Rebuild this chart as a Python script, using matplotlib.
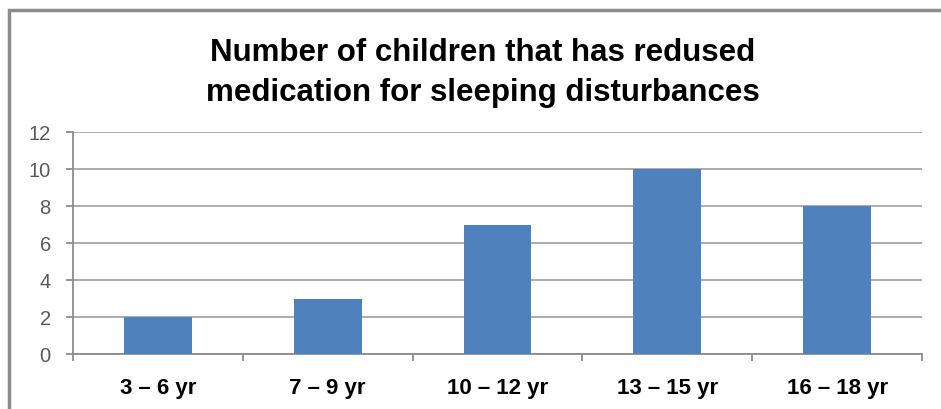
import matplotlib.pyplot as plt
from matplotlib.patches import Rectangle
import numpy as np

plt.rcParams['font.family'] = ['Liberation Sans', 'DejaVu Sans']

categories = ['3 – 6 yr', '7 – 9 yr', '10 – 12 yr', '13 – 15 yr', '16 – 18 yr']
children = [2, 3, 7, 10, 8]
y_ticks = [0, 2, 4, 6, 8, 10, 12]

fig = plt.figure(figsize=(9.41, 4.10), dpi=100)

# outer chart frame, running off the right and bottom edges
top = 1 - 11 / 410
fig.patches.append(Rectangle((9 / 941, -0.1), 1.1, top + 0.1,
                             transform=fig.transFigure, fill=False,
                             edgecolor='#8c8c8c', linewidth=2.5, zorder=0))

ax = fig.add_axes([73 / 941, 55 / 410, 849 / 941, 222 / 410])

x = np.arange(len(categories))
ax.bar(x, children, width=0.4, color='#4f81bd', zorder=3)

ax.set_xlim(-0.5, len(categories) - 0.5)
ax.set_ylim(0, 12)
ax.set_yticks(y_ticks)
ax.yaxis.grid(True, color='#a6a6a6', linewidth=1.3, zorder=0)

for s in ['top', 'right']:
    ax.spines[s].set_visible(False)
ax.spines['left'].set_color('#8c8c8c')
ax.spines['bottom'].set_color('#8c8c8c')
ax.spines['left'].set_linewidth(1.3)
ax.spines['bottom'].set_linewidth(1.3)

# category boundary ticks on the x axis, labels centred under the bars
ax.set_xticks(np.arange(len(categories) + 1) - 0.5)
ax.set_xticklabels([])
ax.set_xticks(x, minor=True)
ax.set_xticklabels(categories, minor=True, fontsize=16, fontweight='bold')
ax.tick_params(axis='x', which='major', length=5, color='#8c8c8c', width=1.3)
ax.tick_params(axis='x', which='minor', length=0, pad=16.5)
ax.tick_params(axis='y', length=5, color='#8c8c8c', width=1.3,
               labelsize=14.5, labelcolor='#595959', pad=11)

fig.text(0.5 + 12 / 941, 337 / 410,
         'Number of children that has redused\nmedication for sleeping disturbances',
         ha='center', va='center', fontsize=22.5, fontweight='bold',
         linespacing=1.4)

fig.savefig('out.png', dpi=100)
